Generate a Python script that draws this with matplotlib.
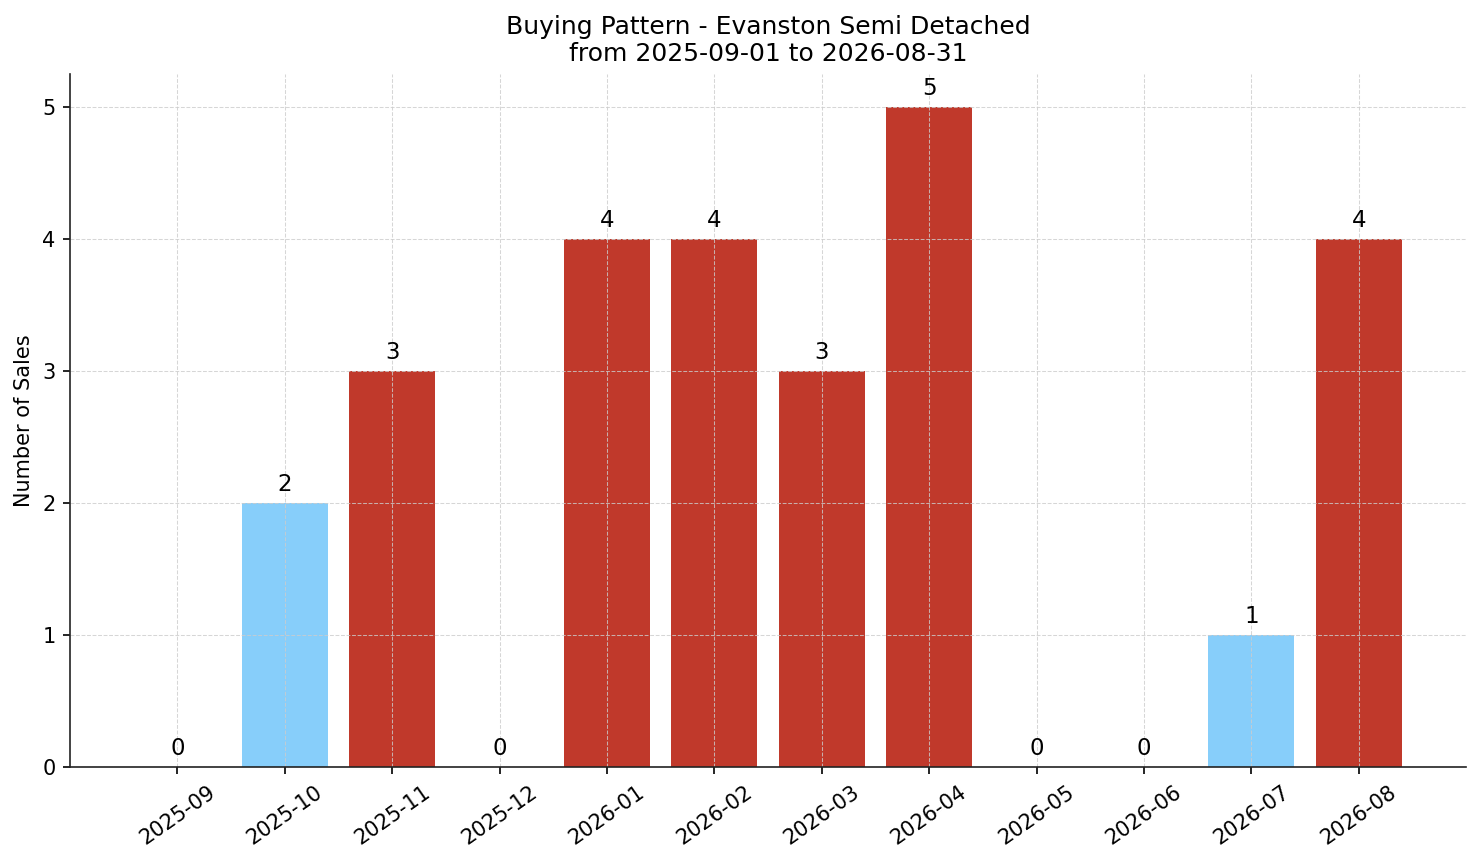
import matplotlib
matplotlib.use("Agg")
import matplotlib.pyplot as plt

months = ["2025-09", "2025-10", "2025-11", "2025-12", "2026-01", "2026-02",
          "2026-03", "2026-04", "2026-05", "2026-06", "2026-07", "2026-08"]
sales = [0, 2, 3, 0, 4, 4, 3, 5, 0, 0, 1, 4]

title = "Buying Pattern - Evanston Semi Detached\nfrom 2025-09-01 to 2026-08-31"

# low months in light blue, busy months in red
colors = ["#87CEFA" if v < 3 else "#C0392B" for v in sales]

fig, ax = plt.subplots(figsize=(1481 / 150, 863 / 150), dpi=150)
fig.subplots_adjust(left=0.0473, right=0.9899, top=0.9143, bottom=0.1112)

bars = ax.bar(range(len(months)), sales, width=0.8, color=colors)
ax.bar_label(bars, labels=[str(v) for v in sales], padding=3.5, fontsize=11)

ax.set_xticks(range(len(months)))
ax.set_xticklabels(months, rotation=35, ha="center", fontsize=10)
ax.tick_params(axis="y", labelsize=10)
ax.set_xlim(-1, len(months))
ax.set_ylim(0, max(sales) * 1.05)

ax.set_ylabel("Number of Sales", fontsize=10)
ax.set_title(title, fontsize=12)

ax.grid(True, linestyle="--", linewidth=0.5, color="#cccccc", alpha=0.8)
for side in ("top", "right"):
    ax.spines[side].set_visible(False)
for side in ("left", "bottom"):
    ax.spines[side].set_color("#222222")

fig.savefig("out.png", dpi=150)
